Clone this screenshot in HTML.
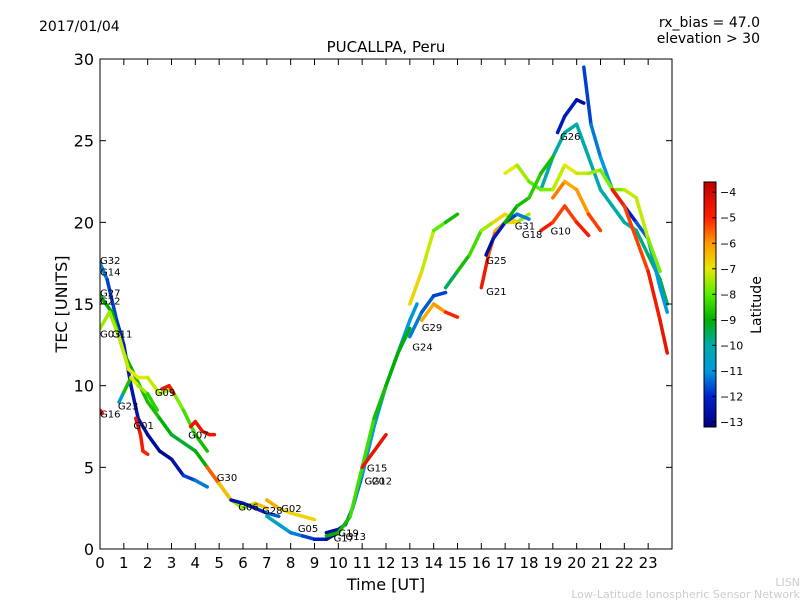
<!DOCTYPE html>
<html><head><meta charset="utf-8"><style>
body{margin:0;background:#fff;}
svg text{font-family:"DejaVu Sans","Liberation Sans",sans-serif;}
</style></head><body>
<svg id="chart" width="800" height="600" xmlns="http://www.w3.org/2000/svg">
<defs>
<linearGradient id="jet" x1="0" y1="1" x2="0" y2="0">
<stop offset="0" stop-color="#000080"/><stop offset="0.125" stop-color="#0022cc"/>
<stop offset="0.229" stop-color="#0099dd"/><stop offset="0.333" stop-color="#00aaaa"/>
<stop offset="0.438" stop-color="#00b000"/><stop offset="0.542" stop-color="#55ee00"/>
<stop offset="0.646" stop-color="#e8e800"/><stop offset="0.75" stop-color="#ff9900"/>
<stop offset="0.854" stop-color="#ff2000"/><stop offset="1" stop-color="#c00000"/>
</linearGradient>
<clipPath id="plotclip"><rect x="100" y="59" width="572" height="490"/></clipPath>
</defs>
<text x="39" y="31" font-size="14">2017/01/04</text>
<text x="760" y="27" font-size="14" text-anchor="end">rx_bias = 47.0</text>
<text x="760" y="43" font-size="14" text-anchor="end">elevation &gt; 30</text>
<text x="386" y="52" font-size="15" text-anchor="middle">PUCALLPA, Peru</text>
<text x="386" y="590" font-size="16" text-anchor="middle">Time [UT]</text>
<text transform="translate(67,304) rotate(-90)" font-size="16" text-anchor="middle">TEC [UNITS]</text>
<text x="800" y="586" font-size="11" fill="#ccc" text-anchor="end">LISN</text>
<text x="800" y="598" font-size="11" fill="#ccc" text-anchor="end">Low-Latitude Ionospheric Sensor Network</text>
<g id="tracks" clip-path="url(#plotclip)"></g>
<g id="axes"></g>
<rect x="100" y="59" width="572" height="490" fill="none" stroke="#000" stroke-width="1"/>
<rect x="704" y="182" width="12" height="245" fill="url(#jet)" stroke="#000" stroke-width="1"/>
<g id="cbticks"></g>
<text transform="translate(761,305) rotate(-90)" font-size="14" text-anchor="middle">Latitude</text>
</svg>
<script>
const xTicks=[0,1,2,3,4,5,6,7,8,9,10,11,12,13,14,15,16,17,18,19,20,21,22,23];
const yTicks=[0,5,10,15,20,25,30];
const cbTicks=[-4,-5,-6,-7,-8,-9,-10,-11,-12,-13];
const trackTimes=[
[0,0.3,0.7,1,1.3,1.6,2,2.5,3,3.5,4,4.5],
[0,0.5,1,1.5,2,2.5,3,3.5,4,4.5,5,5.5,6,6.5,7],
[0,0.4,0.8,1.2,1.6,2,2.5,3,3.5,4,4.5],
[0,0.1],
[0.8,1,1.3,1.6,2,2.4],
[1.5,1.7,1.8,2],
[2.6,2.9,3.1],
[3.8,4,4.3,4.6,4.8],
[4.5,5,5.5,6,6.5,7],
[5.5,6,6.5,7,7.5],
[7,7.5,8,8.5,9],
[7,7.5,8,8.5,9,9.5,10],
[9.5,10,10.3,10.6,11,11.5,12,12.5,13,13.3],
[9.5,10,10.5,11,11.5,12,12.5,13],
[11,11.5,12],
[13,13.5,14,14.5],
[13,13.5,14,14.5,15],
[13.5,14,14.5,15],
[14.5,15,15.5,16,16.5,17,17.5,18],
[16,16.3,16.6,17,17.5],
[16.2,16.5,17,17.5,18],
[18.5,19,19.5,20,20.5],
[19.2,19.5,20,20.3],
[18.5,19,19.5,20,20.5,21,21.5,22,22.5,23,23.5,23.8],
[20.3,20.6,21,21.5,22,22.5,23,23.5,23.8],
[17,17.5,18,18.5,19,19.5,20,20.5,21,21.5,22,22.5,23,23.5],
[21.5,22,22.5,23,23.5,23.8],
[19,19.5,20,20.5,21],
[17,17.5,18,18.5,19]
];
const trackTec=[
[17.5,16.5,14,12.5,10,8,7,6,5.5,4.5,4.2,3.8],
[15.5,14.5,12,10.5,9,8,7,6.5,6,5,4,3,2.8,2.5,2.2],
[13.5,14.5,13,11,10.5,10.5,9.5,9.8,8.5,7,6],
[8.5,8.3],
[9,9.6,10.5,10,9.5,8.5],
[8,7,6,5.8],
[9.8,10,9.5],
[7.5,7.8,7.2,7,7],
[5,4,3,2.5,2.8,2.5],
[3,2.8,2.5,2.2,2],
[3,2.5,2.2,2,1.8],
[2,1.5,1,0.8,0.6,0.6,1],
[1,1.2,1.5,2.5,4.5,7.5,10,12,14,15],
[0.8,1,2,5,8,10,12,13.5],
[5,6,7],
[13,14.5,15.5,15.7],
[15,17,19.5,20,20.5],
[14,15,14.5,14.2],
[16,17,18,19.5,20,20.5,20,20.5],
[16,18,19.5,20,20],
[18,19,20,20.5,20.2],
[19.5,20,21,20,19.2],
[25.5,26.5,27.5,27.3],
[22,24,25.5,26,24,22,21,20,19.5,18,16.5,15],
[29.5,26,24,22,21,20,19,16,14.5],
[23,23.5,22.5,22,22,23.5,23,23,23.2,22,22,21.5,19,17],
[22,21,19,17,14,12],
[21.5,22.5,22,20.5,19.5],
[20,21,21.5,23,24]
];
const trackLat=[
[-11,-11.5,-12,-12,-12.5,-12.5,-12.5,-13,-13,-12,-11.5,-11],
[-9,-9,-9,-9,-8.5,-9,-9,-9.5,-9,-9,-9.5,-9.5,-9,-8,-8],
[-7.5,-7.5,-7.5,-7,-7,-7,-7.5,-7.5,-8,-8.5,-9],
[-4.5,-4.5],
[-11,-10.5,-7,-7,-8,-9],
[-4.5,-4.5,-5,-5],
[-4.5,-4.5,-5],
[-4.5,-4.5,-4.5,-4.5,-4.5],
[-5,-6,-7,-8,-7,-6],
[-12.5,-12.5,-12,-12,-11],
[-6,-6.5,-7,-6.5,-7],
[-10,-10.5,-11,-11.5,-12,-12.5,-13],
[-13,-12.5,-12,-11.5,-11,-11,-10.5,-11,-11,-11],
[-9,-9,-8.5,-8,-8.5,-9,-9,-9],
[-4.5,-4.5,-4.5],
[-11,-11.5,-11.5,-12],
[-6.5,-7,-7.5,-8.5,-9],
[-6,-6.5,-5.5,-4.5],
[-10,-9,-8.5,-8,-7,-6.5,-7,-8],
[-4.5,-5,-6,-6.5,-7],
[-13,-12.5,-12,-11.5,-11],
[-4.5,-5,-5.5,-5,-4.5],
[-12.5,-12,-12.5,-13],
[-10,-10,-10,-10,-10,-10,-10,-10,-10,-9.5,-9.5,-9.5],
[-12,-11.5,-11,-11,-12.5,-12,-11,-11,-11],
[-7,-7,-8,-8,-7.5,-7,-7,-7.5,-7.5,-8,-7.5,-7,-7.5,-8],
[-4.5,-5,-5.5,-5,-4.5,-4.5],
[-5.5,-6,-6.5,-5.5,-5],
[-9,-9,-8.5,-8.5,-9]
];
const labelNames=["G32","G14","G27","G22","G03","G11","G16","G23","G01","G09","G07","G30","G06","G28","G02","G05","G19","G17","G13","G15","G12","G20","G24","G29","G25","G21","G31","G18","G10","G26"];
const labelTimes=[0,0,0,0,0,0.5,0,0.75,1.4,2.3,3.7,4.9,5.8,6.8,7.6,8.3,10,9.8,10.3,11.2,11.4,11.1,13.1,13.5,16.2,16.2,17.4,17.7,18.9,19.3];
const labelTec=[17.7,17,15.7,15.2,13.2,13.2,8.3,8.8,7.6,9.6,7,4.4,2.6,2.4,2.5,1.3,1,0.7,0.8,5,4.2,4.2,12.4,13.6,17.7,15.8,19.8,19.3,19.5,25.3];

const sx=t=>100+t*23.833;
const sy=v=>549-v*16.333;
const cbMin=-13.2,cbMax=-3.6;
const cmapStops=[[0,[0,0,128]],[0.125,[0,34,204]],[0.229,[0,153,221]],[0.333,[0,170,170]],[0.438,[0,176,0]],[0.542,[85,238,0]],[0.646,[232,232,0]],[0.75,[255,153,0]],[0.854,[255,32,0]],[1,[192,0,0]]];
function jet(lat){
  let f=(lat-cbMin)/(cbMax-cbMin); f=Math.max(0,Math.min(1,f));
  for(let k=0;k<cmapStops.length-1;k++){
    const a=cmapStops[k],b=cmapStops[k+1];
    if(f<=b[0]){const u=(f-a[0])/(b[0]-a[0]);
      const c=a[1].map((v,i)=>Math.round(v+(b[1][i]-v)*u));
      return `rgb(${c[0]},${c[1]},${c[2]})`;}
  }
  return 'rgb(192,0,0)';
}
const NS="http://www.w3.org/2000/svg";
const tracks=document.getElementById('tracks');
for(let i=0;i<trackTimes.length;i++){
  const g=document.createElementNS(NS,'g');
  
  
  for(let j=0;j<trackTimes[i].length-1;j++){
    const l=document.createElementNS(NS,'line');
    l.setAttribute('x1',sx(trackTimes[i][j]));l.setAttribute('y1',sy(trackTec[i][j]));
    l.setAttribute('x2',sx(trackTimes[i][j+1]));l.setAttribute('y2',sy(trackTec[i][j+1]));
    l.setAttribute('stroke',jet((trackLat[i][j]+trackLat[i][j+1])/2));
    l.setAttribute('stroke-width','3.5');l.setAttribute('stroke-linecap','round');
    
    
    g.appendChild(l);
  }
  tracks.appendChild(g);
}
for(let i=0;i<labelNames.length;i++){
  const t=document.createElementNS(NS,'text');
  t.setAttribute('x',sx(labelTimes[i]));t.setAttribute('y',sy(labelTec[i])+4);
  t.setAttribute('font-size','10');t.textContent=labelNames[i];
  
  
  tracks.appendChild(t);
}
const axes=document.getElementById('axes');
xTicks.forEach(v=>{
  const x=sx(v);
  axes.insertAdjacentHTML('beforeend',`<line x1="${x}" y1="549" x2="${x}" y2="543" stroke="#000"/><line x1="${x}" y1="59" x2="${x}" y2="65" stroke="#000"/><text x="${x}" y="568" font-size="15" text-anchor="middle">${v}</text>`);
});
yTicks.forEach(v=>{
  const y=sy(v);
  axes.insertAdjacentHTML('beforeend',`<line x1="100" y1="${y}" x2="106" y2="${y}" stroke="#000"/><line x1="672" y1="${y}" x2="666" y2="${y}" stroke="#000"/><text x="94" y="${y+6}" font-size="16" text-anchor="end">${v}</text>`);
});
const cb=document.getElementById('cbticks');
cbTicks.forEach(v=>{
  const y=427-(v-cbMin)/(cbMax-cbMin)*245;
  cb.insertAdjacentHTML('beforeend',`<line x1="712" y1="${y}" x2="716" y2="${y}" stroke="#000"/><text x="720" y="${y+4}" font-size="11">\u2212${-v}</text>`);
});
</script>
</body></html>
